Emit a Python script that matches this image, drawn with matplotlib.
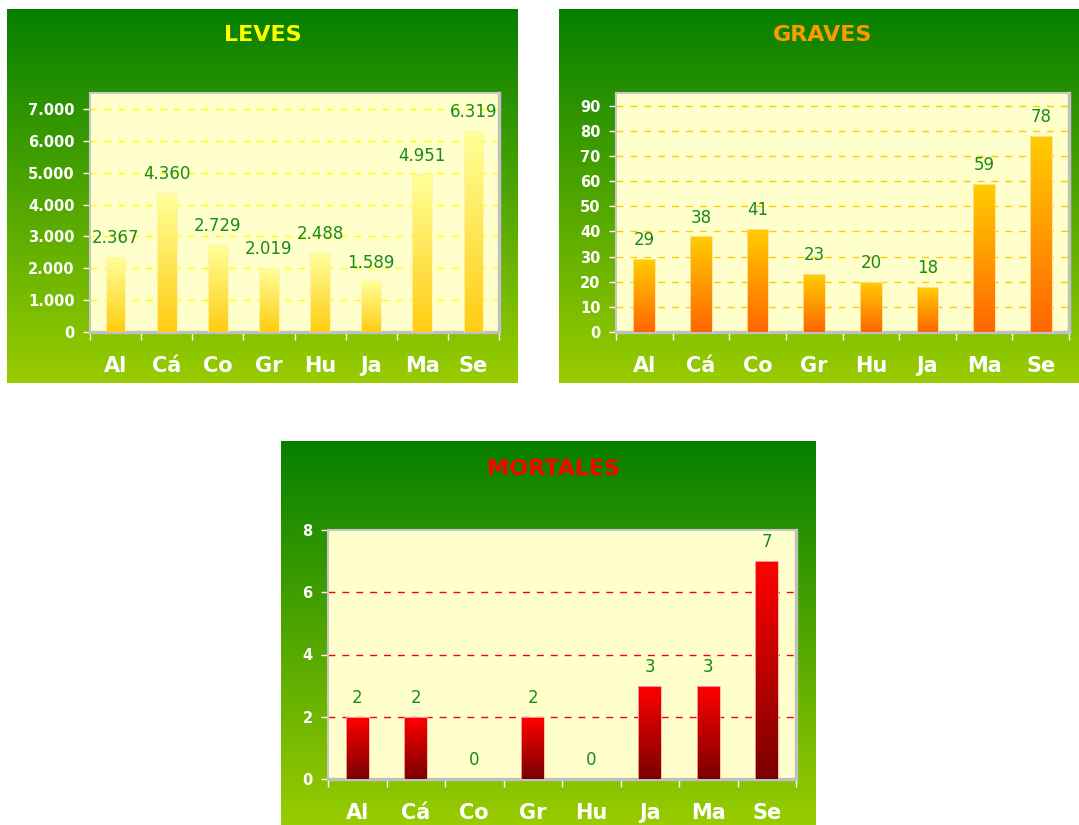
import numpy as np
import matplotlib
matplotlib.use('Agg')
import matplotlib.pyplot as plt
from matplotlib.colors import to_rgb


cats = ['Al', 'Cá', 'Co', 'Gr', 'Hu', 'Ja', 'Ma', 'Se']
leves = [2367, 4360, 2729, 2019, 2488, 1589, 4951, 6319]
graves = [29, 38, 41, 23, 20, 18, 59, 78]
mortales = [2, 2, 0, 2, 0, 3, 3, 7]

leves_ticks = list(range(0, 7001, 1000))
graves_ticks = list(range(0, 91, 10))
mortales_ticks = [0, 2, 4, 6, 8]

W, H = 1079, 825
fig = plt.figure(figsize=(W / 100, H / 100), dpi=100)
plt.rcParams['font.family'] = 'DejaVu Sans'


def box(x0, y0, x1, y1):
    # pixel box (top-left origin) -> figure fraction
    return [x0 / W, 1 - y1 / H, (x1 - x0) / W, (y1 - y0) / H]


def vgrad(top, bottom, n=256):
    t = np.linspace(0, 1, n)[:, None]
    a, b = np.array(to_rgb(top)), np.array(to_rgb(bottom))
    return a * (1 - t) + b * t


def fmt(v):
    return f'{v:,}'.replace(',', '.')


def panel(bg_px, plot_px, title, title_col, title_xy, values, ticks, ymax,
          grid_col, bar_top, bar_bot, edge_col):
    bg = fig.add_axes(box(*bg_px))
    bg.imshow(vgrad('#067f00', '#99cc00')[:, None, :], extent=[0, 1, 0, 1],
              aspect='auto')
    bg.axis('off')
    fig.text(title_xy[0] / W, 1 - title_xy[1] / H, title, color=title_col,
             fontsize=16, fontweight='heavy', ha='center', va='center')

    ax = fig.add_axes(box(*plot_px))
    ax.set_facecolor('#ffffcc')
    x = np.arange(len(values))
    wdt = 0.385
    nseg = 80
    cols = vgrad(bar_bot, bar_top, nseg)   # bottom -> top
    for xi, v in zip(x, values):
        if v > 0:
            # gradient fill: stack of thin slices
            edges = np.linspace(0, v, nseg + 1)
            ax.bar([xi] * nseg, np.diff(edges), bottom=edges[:-1], width=wdt,
                   color=cols, linewidth=0, zorder=3)
            ax.bar(xi, v, width=wdt, color='none', edgecolor=edge_col,
                   linewidth=0.6, zorder=4)
        ax.annotate(fmt(v), (xi, v), xytext=(0, 7), textcoords='offset points',
                    ha='center', va='bottom', color='#1a8a1a', fontsize=12)

    ax.set_xlim(-0.5, len(values) - 0.5)
    ax.set_ylim(0, ymax)
    ax.set_yticks(ticks)
    ax.set_yticklabels([fmt(t) for t in ticks])
    for t in ticks[1:]:
        if t < ymax:
            ax.axhline(t, color=grid_col, lw=1, ls=(0, (5, 5)), zorder=1)

    ax.set_xticks(np.arange(-0.5, len(values)))
    ax.set_xticklabels([])
    ax.set_xticks(x, minor=True)
    ax.set_xticklabels(cats, minor=True)
    ax.tick_params(axis='x', which='major', length=6, color='white', width=1)
    ax.tick_params(axis='x', which='minor', length=0, pad=17,
                   labelsize=15, labelcolor='white')
    ax.tick_params(axis='y', length=5, color='white', width=1, pad=6,
                   labelsize=10.5, labelcolor='white')
    for lab in ax.get_xticklabels(minor=True) + ax.get_yticklabels():
        lab.set_fontweight('bold')

    for s in ['top', 'left']:
        ax.spines[s].set_color('#c8c8c8')
        ax.spines[s].set_linewidth(1.5)
    for s in ['right', 'bottom']:
        ax.spines[s].set_color('#c0c0c0')
        ax.spines[s].set_linewidth(2.5)
    return ax


panel((7, 9, 518, 383), (90, 93, 499, 332), 'LEVES', '#ffff00', (263, 35),
      leves, leves_ticks, 7500, '#ffff00', '#ffff99', '#ffcc11', '#fff2b0')
panel((559, 9, 1079, 383), (616, 93, 1069, 332), 'GRAVES', '#ff9900', (823, 35),
      graves, graves_ticks, 95, '#ffcc00', '#ffcc00', '#ff6600', '#ffe0a0')
panel((281, 441, 816, 825), (328, 530, 796, 779), 'MORTALES', '#ff0000', (554, 469),
      mortales, mortales_ticks, 8, '#ff0000', '#ff0000', '#7a0000', '#ffb0b0')

plt.savefig('out.png', dpi=100)
